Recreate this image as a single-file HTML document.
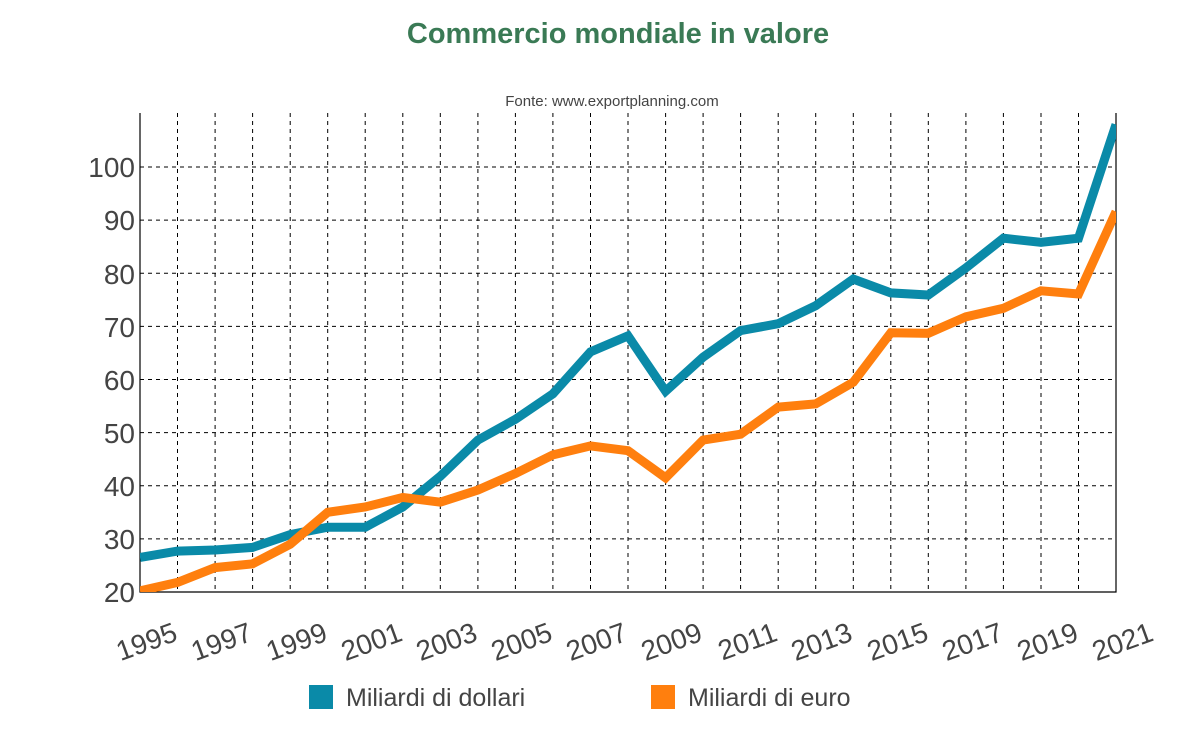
<!DOCTYPE html>
<html><head><meta charset="utf-8"><style>body{margin:0;background:#fff}svg{display:block}</style></head><body>
<svg width="1203" height="730" xmlns="http://www.w3.org/2000/svg" font-family="Liberation Sans, sans-serif">
<text x="618" y="43" text-anchor="middle" font-size="29" font-weight="bold" fill="#3a7a55">Commercio mondiale in valore</text>
<text x="612" y="106" text-anchor="middle" font-size="15" fill="#444">Fonte: www.exportplanning.com</text>
<defs><clipPath id="c"><rect x="140" y="113" width="976" height="479"/></clipPath></defs>
<g stroke="#000" stroke-width="1" stroke-dasharray="4,4">
<path d="M177.5 113V592M215.1 113V592M252.6 113V592M290.2 113V592M327.7 113V592M365.2 113V592M402.8 113V592M440.3 113V592M477.9 113V592M515.4 113V592M552.9 113V592M590.5 113V592M628 113V592M665.6 113V592M703.1 113V592M740.6 113V592M778.2 113V592M815.7 113V592M853.3 113V592M890.8 113V592M928.3 113V592M965.9 113V592M1003.4 113V592M1041 113V592M1078.5 113V592"/>
<path d="M140 538.9H1116M140 485.8H1116M140 432.6H1116M140 379.5H1116M140 326.4H1116M140 273.3H1116M140 220.1H1116M140 167H1116M140 592H1116"/>
</g>
<path d="M140 113V592H1116V113" fill="none" stroke="#000" stroke-width="1.2"/>
<g clip-path="url(#c)" fill="none" stroke-width="9" stroke-linejoin="miter">
<polyline stroke="#0a8aa8" points="140,557.5 177.5,551.1 215.1,550 252.6,547.4 290.2,534.6 327.7,527.2 365.2,527.2 402.8,507 440.3,476.2 477.9,440.1 515.4,419.3 552.9,393.8 590.5,351.9 628,335.9 665.6,391.2 703.1,357.2 740.6,330.6 778.2,323.7 815.7,305.7 853.3,279.1 890.8,292.9 928.3,295 965.9,267.9 1003.4,238.2 1041,242.4 1078.5,238.2 1116,124.5"/>
<polyline stroke="#ff7f0e" points="140,590.9 177.5,582.4 215.1,567.6 252.6,563.8 290.2,544.2 327.7,512.3 365.2,507 402.8,497.4 440.3,502.2 477.9,490 515.4,473.5 552.9,454.9 590.5,445.9 628,450.7 665.6,477.8 703.1,440.1 740.6,434.2 778.2,407.1 815.7,403.9 853.3,382.2 890.8,332.8 928.3,333.3 965.9,316.8 1003.4,308.3 1041,290.8 1078.5,294 1116,211.6"/>
</g>
<g font-size="28" fill="#444" text-anchor="end">
<text x="135" y="602">20</text><text x="135" y="549">30</text><text x="135" y="496">40</text><text x="135" y="443">50</text><text x="135" y="390">60</text><text x="135" y="337">70</text><text x="135" y="284">80</text><text x="135" y="230">90</text><text x="135" y="177">100</text>
</g>
<g font-size="28" fill="#444" text-anchor="end">
<text transform="translate(179,640) rotate(-20)">1995</text>
<text transform="translate(254,640) rotate(-20)">1997</text>
<text transform="translate(329,640) rotate(-20)">1999</text>
<text transform="translate(404,640) rotate(-20)">2001</text>
<text transform="translate(479,640) rotate(-20)">2003</text>
<text transform="translate(554,640) rotate(-20)">2005</text>
<text transform="translate(629,640) rotate(-20)">2007</text>
<text transform="translate(704,640) rotate(-20)">2009</text>
<text transform="translate(779,640) rotate(-20)">2011</text>
<text transform="translate(854,640) rotate(-20)">2013</text>
<text transform="translate(930,640) rotate(-20)">2015</text>
<text transform="translate(1005,640) rotate(-20)">2017</text>
<text transform="translate(1080,640) rotate(-20)">2019</text>
<text transform="translate(1155,640) rotate(-20)">2021</text>
</g>
<rect x="309" y="685" width="24" height="24" fill="#0a8aa8"/>
<text x="346" y="706" font-size="25" fill="#444">Miliardi di dollari</text>
<rect x="651" y="685" width="24" height="24" fill="#ff7f0e"/>
<text x="688" y="706" font-size="25" fill="#444">Miliardi di euro</text>
</svg>
</body></html>
